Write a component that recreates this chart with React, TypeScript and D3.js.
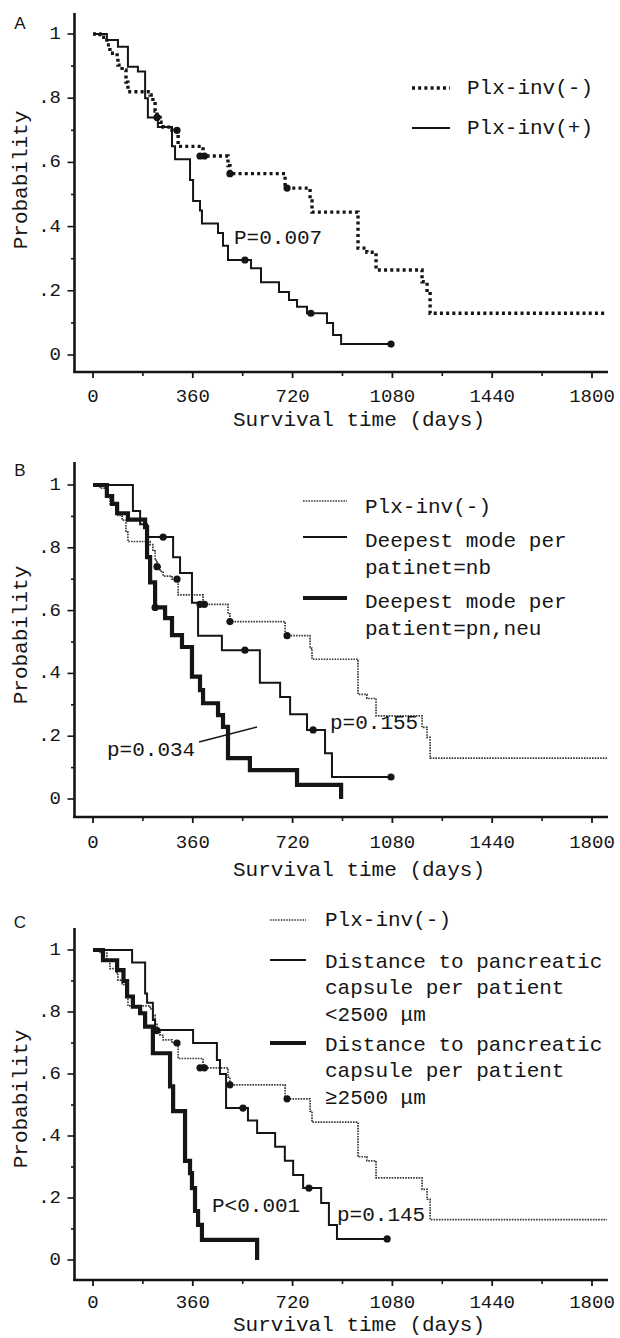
import React from 'react';
import * as d3 from 'd3';

type Pt = [number, number];

// ---------- tick values / labels ----------
const xTickValues = [0, 360, 720, 1080, 1440, 1800];
const xMinorTicks = [180, 540, 900, 1260, 1620];
const yTickValues = [0, 0.2, 0.4, 0.6, 0.8, 1];
const yTickLabels = ['0', '.2', '.4', '.6', '.8', '1'];
const yMinorTicks = [0.1, 0.3, 0.5, 0.7, 0.9];

// ---------- Kaplan-Meier steps: [day, survival] ----------
const plxNeg: Pt[] = [
  [0, 1], [25, 0.99], [50, 0.966], [61, 0.94], [87, 0.925], [90, 0.903], [105, 0.888],
  [119, 0.85], [126, 0.82], [206, 0.81], [216, 0.79], [224, 0.76], [231, 0.74], [242, 0.725],
  [253, 0.71], [285, 0.7], [307, 0.65], [397, 0.62], [487, 0.59], [494, 0.565], [693, 0.52],
  [783, 0.48], [790, 0.445], [956, 0.333], [988, 0.32], [1021, 0.265], [1187, 0.228],
  [1205, 0.196], [1216, 0.13], [1854, 0.13],
];
const plxNegCensored: Pt[] = [[231, 0.74], [303, 0.7], [386, 0.62], [402, 0.62], [494, 0.565], [700, 0.52]];

const plxPos: Pt[] = [
  [0, 1], [50, 0.981], [90, 0.96], [126, 0.898], [162, 0.883], [188, 0.8], [198, 0.74],
  [234, 0.71], [285, 0.65], [296, 0.61], [350, 0.545], [361, 0.48], [386, 0.45], [393, 0.41],
  [451, 0.38], [469, 0.34], [487, 0.296], [570, 0.27], [606, 0.227], [671, 0.196], [707, 0.171],
  [736, 0.15], [772, 0.13], [844, 0.1], [866, 0.062], [895, 0.034], [1079, 0.034],
];
const plxPosCensored: Pt[] = [[548, 0.296], [786, 0.13], [1075, 0.034]];

const modeNb: Pt[] = [
  [0, 1], [144, 0.917], [170, 0.875], [195, 0.834], [289, 0.77], [314, 0.72], [357, 0.625],
  [379, 0.52], [465, 0.474], [602, 0.37], [675, 0.325], [711, 0.27], [772, 0.22], [837, 0.146],
  [862, 0.07], [1079, 0.07],
];
const modeNbCensored: Pt[] = [[253, 0.834], [548, 0.474], [794, 0.22], [1075, 0.07]];

const modePnNeu: Pt[] = [
  [0, 1], [50, 0.965], [69, 0.94], [87, 0.91], [126, 0.89], [188, 0.866], [195, 0.77],
  [206, 0.69], [224, 0.61], [260, 0.576], [285, 0.522], [321, 0.484], [357, 0.39], [386, 0.347],
  [397, 0.305], [451, 0.267], [469, 0.23], [487, 0.13], [566, 0.092], [736, 0.045], [895, 0],
];
const modePnNeuCensored: Pt[] = [[224, 0.61]];

const distLt: Pt[] = [
  [0, 1], [141, 0.96], [188, 0.86], [195, 0.83], [216, 0.774], [224, 0.742], [361, 0.7],
  [447, 0.645], [458, 0.6], [480, 0.49], [559, 0.45], [592, 0.41], [657, 0.365], [692, 0.32],
  [722, 0.274], [758, 0.232], [823, 0.184], [851, 0.113], [880, 0.068], [1061, 0.068],
];
const distLtCensored: Pt[] = [[541, 0.49], [779, 0.232], [1061, 0.068]];

const distGe: Pt[] = [
  [0, 1], [36, 0.967], [87, 0.935], [110, 0.9], [123, 0.85], [144, 0.817], [170, 0.796],
  [188, 0.753], [216, 0.667], [278, 0.56], [289, 0.48], [332, 0.32], [350, 0.28], [357, 0.232],
  [368, 0.158], [379, 0.113], [393, 0.065], [592, 0],
];
const distGeCensored: Pt[] = [];

// ---------- text ----------
const panelLetters = ['A', 'B', 'C'];
const yAxisTitle = 'Probability';
const xAxisTitle = 'Survival time (days)';
const legendA = [['Plx-inv(-)'], ['Plx-inv(+)']];
const legendB = [['Plx-inv(-)'], ['Deepest mode per', 'patinet=nb'], ['Deepest mode per', 'patient=pn,neu']];
const legendC = [
  ['Plx-inv(-)'],
  ['Distance to pancreatic', 'capsule per patient', '<2500 \u03bcm'],
  ['Distance to pancreatic', 'capsule per patient', '\u22652500 \u03bcm'],
];

// ---------- styles ----------
const FONT = "'Liberation Mono', 'DejaVu Sans Mono', monospace";
const INK = '#151515';
type StyleKey = 'heavyDot' | 'thinDot' | 'solid' | 'thick';
const styles: Record<StyleKey, { width: number; dash?: string; color: string }> = {
  heavyDot: { width: 3.4, dash: '3 3.2', color: INK },
  thinDot: { width: 1.7, dash: '1.6 1.1', color: '#3a3a3a' },
  solid: { width: 2, color: INK },
  thick: { width: 4.2, color: INK },
};

type Geo = {
  y1: number; y0: number; axisY: number; axisTop: number; tickLabelY: number; titleY: number;
  letterY: number; probY: number;
};

type Legend = {
  texts: string[][]; styles: StyleKey[]; lineX: [number, number]; textX: number;
  lineY: number[]; textY: number[]; lineH: number;
};

type Note = { text: string; x: number; y: number };

const xScale = d3.scaleLinear().domain([0, 1800]).range([93, 592]);
const AXIS_X = 74.5;
const AXIS_RIGHT = 608;

function Panel(props: {
  geo: Geo; letter: string;
  series: { data: Pt[]; censored: Pt[]; style: StyleKey }[];
  legend: Legend; notes: Note[]; leader?: [number, number, number, number];
}) {
  const { geo, letter, series, legend, notes, leader } = props;
  const y = d3.scaleLinear().domain([0, 1]).range([geo.y0, geo.y1]);
  const line = d3.line<Pt>().x(d => xScale(d[0])).y(d => y(d[1])).curve(d3.curveStepAfter);
  return (
    <g>
      <text x={20} y={geo.letterY} fontFamily="'Liberation Sans', Arial, sans-serif" fontSize={17}
        textAnchor="middle" dominantBaseline="central" fill={INK}>{letter}</text>
      {/* y axis */}
      <line x1={AXIS_X} x2={AXIS_X} y1={geo.axisTop} y2={geo.axisY + 1} stroke={INK} strokeWidth={2.6} />
      {yTickValues.map((v, i) => (
        <g key={'yt' + i}>
          <line x1={AXIS_X - 7} x2={AXIS_X} y1={y(v)} y2={y(v)} stroke={INK} strokeWidth={1.6} />
          <text x={61} y={y(v)} fontFamily={FONT} fontSize={19} textAnchor="end"
            dominantBaseline="central" fill={INK}>{yTickLabels[i]}</text>
        </g>
      ))}
      {yMinorTicks.map((v, i) => (
        <line key={'ym' + i} x1={AXIS_X - 3.5} x2={AXIS_X} y1={y(v)} y2={y(v)} stroke={INK} strokeWidth={1.6} />
      ))}
      {/* x axis */}
      <line x1={AXIS_X - 1.3} x2={AXIS_RIGHT} y1={geo.axisY} y2={geo.axisY} stroke={INK} strokeWidth={2.6} />
      {xTickValues.map((v, i) => (
        <g key={'xt' + i}>
          <line x1={xScale(v)} x2={xScale(v)} y1={geo.axisY} y2={geo.axisY + 6} stroke={INK} strokeWidth={1.8} />
          <text x={xScale(v)} y={geo.tickLabelY} fontFamily={FONT} fontSize={19} textAnchor="middle"
            dominantBaseline="central" fill={INK}>{String(v)}</text>
        </g>
      ))}
      {xMinorTicks.map((v, i) => (
        <line key={'xm' + i} x1={xScale(v)} x2={xScale(v)} y1={geo.axisY} y2={geo.axisY + 4} stroke={INK} strokeWidth={1.6} />
      ))}
      <text x={359} y={geo.titleY} fontFamily={FONT} fontSize={21} textAnchor="middle"
        dominantBaseline="central" fill={INK}>{xAxisTitle}</text>
      <text x={21} y={geo.probY} fontFamily={FONT} fontSize={21} textAnchor="middle"
        dominantBaseline="central" fill={INK} transform={`rotate(-90 21 ${geo.probY})`}>{yAxisTitle}</text>
      {/* curves */}
      {series.map((s, i) => {
        const st = styles[s.style];
        return (
          <g key={'s' + i}>
            <path d={line(s.data) || ''} fill="none" stroke={st.color} strokeWidth={st.width}
              strokeDasharray={st.dash} strokeLinejoin="miter" />
            {s.censored.map((c, j) => (
              <circle key={j} cx={xScale(c[0])} cy={y(c[1])} r={3.6} fill={INK} />
            ))}
          </g>
        );
      })}
      {/* legend */}
      {legend.texts.map((lines, i) => {
        const st = styles[legend.styles[i]];
        return (
          <g key={'lg' + i}>
            <line x1={legend.lineX[0]} x2={legend.lineX[1]} y1={legend.lineY[i]} y2={legend.lineY[i]}
              stroke={st.color} strokeWidth={st.width} strokeDasharray={st.dash} />
            {lines.map((t, k) => (
              <text key={k} x={legend.textX} y={legend.textY[i] + k * legend.lineH} fontFamily={FONT}
                fontSize={21} dominantBaseline="central" fill={INK} xmlSpace="preserve">{t}</text>
            ))}
          </g>
        );
      })}
      {notes.map((n, i) => (
        <text key={'n' + i} x={n.x} y={n.y} fontFamily={FONT} fontSize={21} dominantBaseline="central"
          fill={INK}>{n.text}</text>
      ))}
      {leader && (
        <line x1={leader[0]} y1={leader[1]} x2={leader[2]} y2={leader[3]} stroke={INK} strokeWidth={1.6} />
      )}
    </g>
  );
}

const geoA: Geo = { y1: 34, y0: 355, axisY: 372, axisTop: 13, tickLabelY: 397, titleY: 420, letterY: 23, probY: 180 };
const geoB: Geo = { y1: 485, y0: 799, axisY: 817, axisTop: 462, tickLabelY: 843, titleY: 870, letterY: 470, probY: 635 };
const geoC: Geo = { y1: 950, y0: 1260, axisY: 1280, axisTop: 928, tickLabelY: 1303, titleY: 1325, letterY: 922, probY: 1099 };

export default function App() {
  return (
    <svg width={620} height={1338} viewBox="0 0 620 1338"
      style={{ position: 'absolute', left: 0, top: 0, background: '#fff' }}>
      <rect width={620} height={1338} fill="#fff" />
      <Panel
        geo={geoA}
        letter={panelLetters[0]}
        series={[
          { data: plxNeg, censored: plxNegCensored, style: 'heavyDot' },
          { data: plxPos, censored: plxPosCensored, style: 'solid' },
        ]}
        legend={{
          texts: legendA, styles: ['heavyDot', 'solid'], lineX: [412, 450], textX: 467,
          lineY: [88, 128], textY: [88, 128], lineH: 27,
        }}
        notes={[{ text: 'P=0.007', x: 234, y: 238 }]}
      />
      <Panel
        geo={geoB}
        letter={panelLetters[1]}
        series={[
          { data: plxNeg, censored: plxNegCensored, style: 'thinDot' },
          { data: modeNb, censored: modeNbCensored, style: 'solid' },
          { data: modePnNeu, censored: modePnNeuCensored, style: 'thick' },
        ]}
        legend={{
          texts: legendB, styles: ['thinDot', 'solid', 'thick'], lineX: [303, 347], textX: 365,
          lineY: [501, 537, 598], textY: [507, 541, 602], lineH: 27,
        }}
        notes={[{ text: 'p=0.034', x: 107, y: 750 }, { text: 'p=0.155', x: 330, y: 723 }]}
        leader={[199, 742, 257, 727]}
      />
      <Panel
        geo={geoC}
        letter={panelLetters[2]}
        series={[
          { data: plxNeg, censored: plxNegCensored, style: 'thinDot' },
          { data: distLt, censored: distLtCensored, style: 'solid' },
          { data: distGe, censored: distGeCensored, style: 'thick' },
        ]}
        legend={{
          texts: legendC, styles: ['thinDot', 'solid', 'thick'], lineX: [270, 306], textX: 325,
          lineY: [920, 960, 1043], textY: [920, 962, 1045], lineH: 26.5,
        }}
        notes={[{ text: 'P<0.001', x: 212, y: 1206 }, { text: 'p=0.145', x: 337, y: 1215 }]}
      />
    </svg>
  );
}
